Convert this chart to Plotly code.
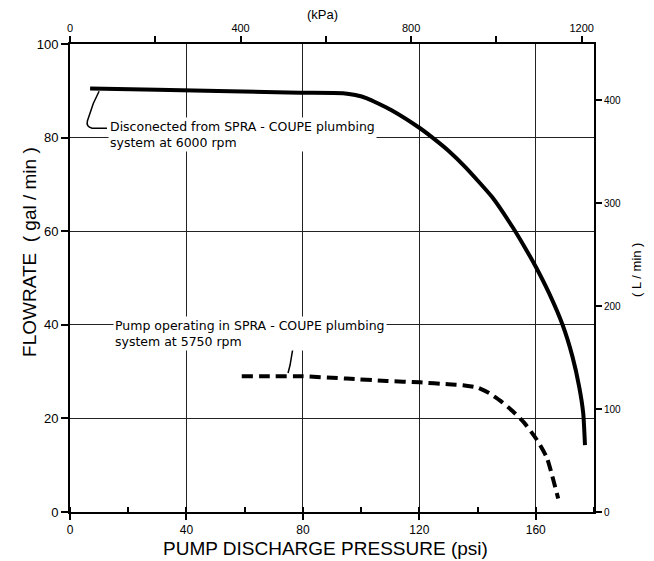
import plotly.graph_objects as go

# ---- data ----
psi_6000 = [6.9, 30, 55, 79, 93.8, 98, 102, 110.3, 120, 124.3, 130, 135.8, 145, 151.9, 156, 160, 164.6, 169.2, 172.6, 174.9, 176.3, 176.9]
gpm_6000 = [90.5, 90.2, 89.9, 89.6, 89.5, 89.1, 88.4, 85.9, 82.1, 80.1, 77.2, 73.7, 67.3, 61.0, 56.8, 52.4, 46.7, 40.0, 33.2, 26.8, 21.1, 14.3]

psi_5750 = [59.0, 70, 80.0, 95, 108.8, 120.2, 130, 135, 140, 144, 148, 152, 156, 160.3, 163.8, 167.7]
gpm_5750 = [29.0, 29.0, 29.0, 28.5, 28.0, 27.7, 27.3, 27.1, 26.6, 25.4, 23.7, 21.6, 19.1, 15.5, 11.6, 2.9]

PSI_MAX = 180          # bottom axis range (psi)
KPA_MAX = 1229         # top axis range (kPa)
LPM_MAX = 454.6        # right axis range (L/min), 100 gal/min (imperial)

FONT = "Liberation Sans"
NOTE_FONT = "DejaVu Sans"

fig = go.Figure()

fig.add_trace(go.Scatter(x=psi_6000, y=gpm_6000, mode="lines",
                         line=dict(color="black", width=4, shape="spline", smoothing=0.5),
                         showlegend=False, hoverinfo="skip"))
fig.add_trace(go.Scatter(x=psi_5750, y=gpm_5750, mode="lines",
                         line=dict(color="black", width=4, dash="11px,6px", shape="spline", smoothing=0.5),
                         showlegend=False, hoverinfo="skip"))
# invisible traces to activate the secondary axes
fig.add_trace(go.Scatter(x=[0], y=[0], xaxis="x2", yaxis="y", mode="markers",
                         marker=dict(opacity=0), showlegend=False, hoverinfo="skip"))
fig.add_trace(go.Scatter(x=[0], y=[0], xaxis="x", yaxis="y2", mode="markers",
                         marker=dict(opacity=0), showlegend=False, hoverinfo="skip"))

tickfont = dict(family=FONT, size=11, color="black")

# page body adds an 8px offset; the figure is sized so the plot area lands where the reference has it
fig.update_layout(
    width=646, height=553,
    margin=dict(l=62, r=60, t=36, b=49),
    paper_bgcolor="white", plot_bgcolor="white",
    font=dict(family=FONT, color="black"),
    xaxis=dict(range=[0, PSI_MAX], dtick=40, tick0=0, showgrid=True, gridcolor="#222", gridwidth=1,
               automargin=False,
               zeroline=False, showline=True, linecolor="black", linewidth=2,
               ticks="outside", ticklen=6, tickwidth=2, tickcolor="black",
               minor=dict(dtick=20, ticks="inside", ticklen=5, tickwidth=2, tickcolor="black", showgrid=False),
               tickfont=dict(family=FONT, size=12, color="black")),
    xaxis2=dict(range=[0, KPA_MAX], overlaying="x", side="top", dtick=400, tick0=0,
                automargin=False,
                showgrid=False, zeroline=False, showline=True, linecolor="black", linewidth=2,
                ticks="outside", ticklen=6, tickwidth=2, tickcolor="black",
                minor=dict(dtick=200, ticks="outside", ticklen=6, tickwidth=2, tickcolor="black", showgrid=False),
                tickfont=tickfont),
    yaxis=dict(range=[0, 100], dtick=20, tick0=0, showgrid=True, gridcolor="#222", gridwidth=1,
               automargin=False,
               zeroline=False, showline=True, linecolor="black", linewidth=2,
               ticks="outside", ticklen=7, tickwidth=2, tickcolor="black",
               tickfont=dict(family=FONT, size=13, color="black")),
    yaxis2=dict(range=[0, LPM_MAX], overlaying="y", side="right", dtick=100, tick0=0,
                automargin=False,
                showgrid=False, zeroline=False, showline=True, linecolor="black", linewidth=2,
                ticks="outside", ticklen=6, tickwidth=2, tickcolor="black",
                tickfont=dict(family=FONT, size=10, color="black")),
)

# axis titles placed as in the reference
fig.add_annotation(text="PUMP DISCHARGE PRESSURE (psi)", xref="paper", yref="paper",
                   x=0.487, y=-0.077, xanchor="center", yanchor="middle", showarrow=False,
                   font=dict(family=FONT, size=19, color="black"))
fig.add_annotation(text="FLOWRATE  ( gal / min )", xref="paper", yref="paper", textangle=-90,
                   x=-0.076, y=0.556, xanchor="center", yanchor="middle", showarrow=False,
                   font=dict(family=FONT, size=19, color="black"))
fig.add_annotation(text="(kPa)", xref="paper", yref="paper",
                   x=0.481, y=1.064, xanchor="center", yanchor="middle", showarrow=False,
                   font=dict(family=FONT, size=13, color="black"))
fig.add_annotation(text="( L / min )", xref="paper", yref="paper", textangle=-90,
                   x=1.080, y=0.517, xanchor="center", yanchor="middle", showarrow=False,
                   font=dict(family=FONT, size=13, color="black"))

fig.add_annotation(x=13.1, y=80.7, xref="x", yref="y", xanchor="left", yanchor="middle",
                   text="Disconected from SPRA - COUPE plumbing<br>system at 6000 rpm",
                   align="left", showarrow=False, bgcolor="white", borderpad=1,
                   font=dict(family=NOTE_FONT, size=12.5, color="black"))
fig.add_annotation(x=14.8, y=38.1, xref="x", yref="y", xanchor="left", yanchor="middle",
                   text="Pump operating in SPRA - COUPE plumbing<br>system at 5750 rpm",
                   align="left", showarrow=False, bgcolor="white", borderpad=1,
                   font=dict(family=NOTE_FONT, size=12.5, color="black"))

# leader lines
fig.add_shape(type="path", xref="x", yref="y",
              path="M 12.7,82.0 L 7.6,82.0 Q 5.4,82.3 6.0,83.6 L 8.0,87.3 L 10.0,89.9",
              line=dict(color="black", width=1.5))
fig.add_shape(type="path", xref="x", yref="y",
              path="M 71.0,36.4 L 76.0,36.7 Q 77.0,36.3 76.6,35.1 L 75.6,31.4 L 74.9,29.7",
              line=dict(color="black", width=1.5))

fig.write_html("out.html")
